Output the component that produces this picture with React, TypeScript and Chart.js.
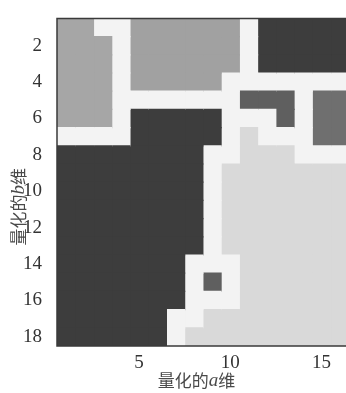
import React, { useEffect, useRef } from "react";
import { Chart, registerables } from "chart.js";

Chart.register(...registerables);

const rowLabels = ["1", "2", "3", "4", "5", "6", "7", "8", "9", "10", "11", "12", "13", "14", "15", "16", "17", "18"];
const columnValues = [1, 2, 3, 4, 5, 6, 7, 8, 9, 10, 11, 12, 13, 14, 15, 16];
const xTickValues = [5, 10, 15];
const cellCodes = [
  "LLWWMMMMMMWKKKKK",
  "LLLWMMMMMMWKKKKK",
  "LLLWMMMMMMWKKKKK",
  "LLLWMMMMMWWWWWWW",
  "LLLWWWWWWWDDDWRR",
  "LLLWKKKKKWWWDWRR",
  "WWWWKKKKKWGWWWRR",
  "KKKKKKKKWWGGGWWW",
  "KKKKKKKKWGGGGGGG",
  "KKKKKKKKWGGGGGGG",
  "KKKKKKKKWGGGGGGG",
  "KKKKKKKKWGGGGGGG",
  "KKKKKKKKWGGGGGGG",
  "KKKKKKKWWWGGGGGG",
  "KKKKKKKWDWGGGGGG",
  "KKKKKKKWWWGGGGGG",
  "KKKKKKWWGGGGGGGG",
  "KKKKKKWGGGGGGGGG",
];
const levelColors: Record<string, string> = {
  L: "#a6a6a6",
  M: "#a1a1a1",
  K: "#3d3d3d",
  D: "#5f5f5f",
  R: "#6f6f6f",
  G: "#d9d9d9",
  W: "#f3f3f3",
};
const xTitleParts = [
  { text: "量化的", italic: false },
  { text: "a", italic: true },
  { text: "维", italic: false },
];
const yTitleParts = [
  { text: "量化的", italic: false },
  { text: "b", italic: true },
  { text: "维", italic: false },
];

const CJK = '"Noto Sans CJK SC", sans-serif';
const SERIF = '"Liberation Serif", "DejaVu Serif", serif';

function drawMixed(ctx: CanvasRenderingContext2D, parts: { text: string; italic: boolean }[], cx: number, cy: number) {
  const fontFor = (p: { italic: boolean }) => (p.italic ? `italic 19px ${SERIF}` : `17px ${CJK}`);
  let total = 0;
  const widths = parts.map((p) => {
    ctx.font = fontFor(p);
    const w = ctx.measureText(p.text).width;
    total += w;
    return w;
  });
  let x = cx - total / 2;
  ctx.textBaseline = "middle";
  ctx.textAlign = "left";
  parts.forEach((p, i) => {
    ctx.font = fontFor(p);
    ctx.fillText(p.text, x, cy);
    x += widths[i];
  });
}

const framePlugin = {
  id: "frameAndTitles",
  afterDraw(chart: any) {
    const { ctx, chartArea } = chart;
    const { left, top, right, bottom } = chartArea;
    ctx.save();
    ctx.strokeStyle = "#3a3a3a";
    ctx.lineWidth = 1.5;
    ctx.beginPath();
    ctx.moveTo(right, top);
    ctx.lineTo(left, top);
    ctx.lineTo(left, bottom);
    ctx.lineTo(right, bottom);
    ctx.stroke();

    ctx.fillStyle = "#4a4a4a";
    drawMixed(ctx, xTitleParts, left + (right - left) * 0.483, bottom + 35);
    ctx.translate(19, top + (bottom - top) * 0.575);
    ctx.rotate(-Math.PI / 2);
    drawMixed(ctx, yTitleParts, 0, 0);
    ctx.restore();
  },
};

export default function App() {
  const canvasRef = useRef<HTMLCanvasElement | null>(null);

  useEffect(() => {
    if (!canvasRef.current) return;
    const datasets = columnValues.map((c, ci) => ({
      label: `a${c}`,
      data: rowLabels.map(() => [c - 0.5, c + 0.5]),
      backgroundColor: rowLabels.map((_, r) => levelColors[cellCodes[r][ci]]),
      borderWidth: 0,
      inflateAmount: 0.6,
      barPercentage: 1,
      categoryPercentage: 1,
      grouped: false,
    }));

    const chart = new Chart(canvasRef.current, {
      type: "bar",
      data: { labels: rowLabels, datasets: datasets as any },
      options: {
        indexAxis: "y",
        animation: false,
        responsive: false,
        devicePixelRatio: 1,
        layout: { padding: { top: 9, right: 0, left: 0, bottom: 0 } },
        plugins: { legend: { display: false }, tooltip: { enabled: false } },
        scales: {
          x: {
            type: "linear",
            min: 0.5,
            max: 16.35,
            grid: { display: false },
            border: { display: false },
            ticks: { font: { family: SERIF, size: 19 }, color: "#333333", padding: -2 },
            afterBuildTicks: (s: any) => {
              s.ticks = xTickValues.map((v) => ({ value: v }));
            },
            afterFit: (s: any) => {
              s.height = 47;
            },
          },
          y: {
            type: "category",
            grid: { display: false },
            border: { display: false },
            ticks: {
              autoSkip: false,
              font: { family: SERIF, size: 19 },
              color: "#333333",
              padding: 7,
              callback: (_v: any, i: number) => (i % 2 === 1 ? rowLabels[i] : ""),
            },
            afterFit: (s: any) => {
              s.width = 57;
            },
          },
        },
      } as any,
      plugins: [framePlugin],
    });
    return () => chart.destroy();
  }, []);

  return (
    <div style={{ position: "absolute", left: 0, top: 0, width: 346, height: 393, background: "#ffffff" }}>
      <canvas ref={canvasRef} width={346} height={393} style={{ display: "block" }} />
    </div>
  );
}
